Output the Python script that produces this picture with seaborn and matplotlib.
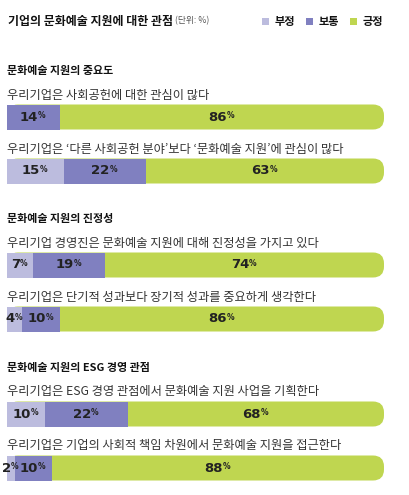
import pandas as pd
import seaborn as sns
import matplotlib.pyplot as plt
from matplotlib.patches import FancyBboxPatch, Rectangle

# 데이터
sections = ["문화예술 지원의 중요도", "문화예술 지원의 진정성", "문화예술 지원의 ESG 경영 관점"]
questions = [
    "우리기업은 사회공헌에 대한 관심이 많다",
    "우리기업은 ‘다른 사회공헌 분야’보다 ‘문화예술 지원’에 관심이 많다",
    "우리기업 경영진은 문화예술 지원에 대해 진정성을 가지고 있다",
    "우리기업은 단기적 성과보다 장기적 성과를 중요하게 생각한다",
    "우리기업은 ESG 경영 관점에서 문화예술 지원 사업을 기획한다",
    "우리기업은 기업의 사회적 책임 차원에서 문화예술 지원을 접근한다",
]
section_of = [0, 0, 1, 1, 2, 2]
negative = [0, 15, 7, 4, 10, 2]
neutral = [14, 22, 19, 10, 22, 10]
positive = [86, 63, 74, 86, 68, 88]
legend_labels = ["부정", "보통", "긍정"]

C_NEG = "#bcbcde"
C_NEU = "#8080c0"
C_POS = "#bfd650"
TXT = "#333333"
KR = ["Noto Sans CJK KR", "DejaVu Sans"]
NUM = ["Liberation Sans Narrow", "DejaVu Sans"]

sns.set_style("white")
plt.rcParams["font.family"] = KR

df = pd.DataFrame({
    "section": section_of,
    "question": questions,
    "neg": negative,
    "neu": neutral,
    "pos": positive,
})
df["neg_neu"] = df["neg"] + df["neu"]
df["total"] = df["neg_neu"] + df["pos"]

W, H = 409, 495
fig = plt.figure(figsize=(W / 100, H / 100), dpi=100)

# 섹션별 축 위치 (첫 막대 중심 y 픽셀)
first_center = [117, 265, 414]
step = 54
bar_w = 25 / step
x0, xw = 7, 377


def seg_label(ax, x, y, v):
    t = ax.text(x - 1.2, y, str(v), ha="center", va="center", fontsize=9.5,
                fontweight="bold", family=NUM, color="#222222")
    ax.annotate("%", xy=(1.0, 0.95), xycoords=t, ha="left", va="top",
                fontsize=5.5, fontweight="bold", family=NUM, color="#222222")


for s, title in enumerate(sections):
    top = first_center[s] - step / 2
    ax = fig.add_axes([x0 / W, 1 - (top + 2 * step) / H, xw / W, 2 * step / H])
    sub = df[df["section"] == s].reset_index(drop=True)

    sns.barplot(data=sub, x="total", y="question", color=C_POS, orient="h",
                width=bar_w, ax=ax, saturation=1, linewidth=0)
    # 오른쪽 끝 둥글게
    for p in list(ax.patches):
        bx, by, bw, bh = p.get_x(), p.get_y(), p.get_width(), p.get_height()
        p.remove()
        r = 11 * 100 / xw
        ax.add_patch(FancyBboxPatch((bx, by), bw, bh,
                                    boxstyle=f"round,pad=0,rounding_size={r}",
                                    mutation_aspect=(1 / step) / (100 / xw),
                                    facecolor=C_POS, edgecolor="none", zorder=1))
    sns.barplot(data=sub, x="neg_neu", y="question", color=C_NEU, orient="h",
                width=bar_w, ax=ax, saturation=1, linewidth=0)
    sns.barplot(data=sub, x="neg", y="question", color=C_NEG, orient="h",
                width=bar_w, ax=ax, saturation=1, linewidth=0)

    ax.set_xlim(0, 100)
    ax.set_ylim(1.5, -0.5)
    ax.axis("off")

    for i, row in sub.iterrows():
        ax.text(0, i - 22 / step, row["question"], ha="left", va="center",
                fontsize=8.8, color=TXT, clip_on=False)
        if row["neg"] > 0:
            seg_label(ax, row["neg"] / 2, i, row["neg"])
        seg_label(ax, row["neg"] + row["neu"] / 2, i, row["neu"])
        seg_label(ax, row["neg_neu"] + row["pos"] / 2, i, row["pos"])

    ax.text(0, -46 / step, title, ha="left", va="center", fontsize=7.9,
            fontweight="bold", color="#111111", clip_on=False)

# 제목과 범례
fig.text(8 / W, 1 - 21 / H, "기업의 문화예술 지원에 대한 관점", ha="left", va="center",
         fontsize=8.6, fontweight="bold", color="#111111")
fig.text(175 / W, 1 - 21 / H, "(단위: %)", ha="left", va="center",
         fontsize=6.3, color="#555555")
for lx, lab, col in zip([262, 306, 350], legend_labels, [C_NEG, C_NEU, C_POS]):
    fig.patches.append(Rectangle((lx / W, 1 - 25 / H), 7 / W, 7 / H,
                                 transform=fig.transFigure, facecolor=col,
                                 edgecolor="none"))
    fig.text((lx + 13) / W, 1 - 21.5 / H, lab, ha="left", va="center",
             fontsize=8, fontweight="bold", color="#111111")

fig.savefig("out.png", dpi=100, facecolor="white")
